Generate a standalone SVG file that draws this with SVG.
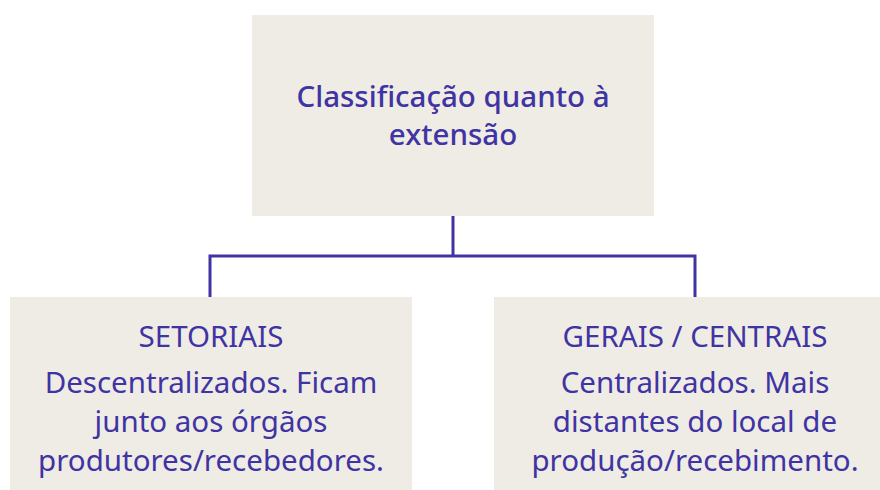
<svg xmlns="http://www.w3.org/2000/svg" width="880" height="490" viewBox="0 0 880 490">
<style>
.box{fill:#eeece4}
.t{font-family:"Noto Sans","DejaVu Sans",sans-serif;font-size:29.5px;fill:#4033a3;text-anchor:middle}
.h{font-weight:500}
.c{fill:none;stroke:#4033a3;stroke-width:3}
</style>
<rect width="880" height="490" fill="#ffffff"/>
<g id="connectors">
<path class="c" d="M453 216 V256 M210 297 V256 H695 V297"/>
</g>
<g id="root">
<rect class="box" x="252" y="15" width="402" height="201"/>
<text class="t h" x="453" y="107">Classificação quanto à</text>
<text class="t h" x="453" y="145">extensão</text>
</g>
<g id="setoriais">
<rect class="box" x="10" y="297" width="402" height="193"/>
<text class="t" x="211" y="347">SETORIAIS</text>
<text class="t" x="211" y="393">Descentralizados. Ficam</text>
<text class="t" x="211" y="432">junto aos órgãos</text>
<text class="t" x="211" y="471">produtores/recebedores.</text>
</g>
<g id="gerais">
<rect class="box" x="494" y="297" width="386" height="193"/>
<text class="t" x="695" y="347">GERAIS / CENTRAIS</text>
<text class="t" x="695" y="393">Centralizados. Mais</text>
<text class="t" x="695" y="432">distantes do local de</text>
<text class="t" x="695" y="471">produção/recebimento.</text>
</g>
</svg>
